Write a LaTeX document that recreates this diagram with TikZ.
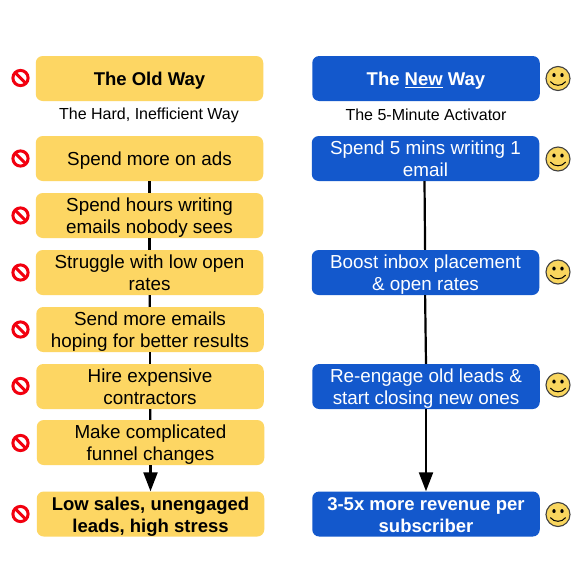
\documentclass[tikz,border=0pt]{standalone}
\usepackage{fontspec}
\setmainfont{Liberation Sans}
\usetikzlibrary{arrows.meta}
\definecolor{oldc}{HTML}{FDD663}
\definecolor{newc}{HTML}{1358CC}
\definecolor{stopc}{HTML}{F2000F}
\definecolor{smile}{HTML}{F9D65E}
\newcommand\boxlines[1]{\raisebox{-7.3pt}[0pt][0pt]{\begin{tabular}{@{}c@{}}#1\end{tabular}}}
\newcommand\hd[1]{{\fontsize{18.5}{22}\selectfont\bfseries #1}}
\tikzset{
  x=1pt,y=-1pt,
  stepbox/.style={rounded corners=7pt,minimum width=227.5pt,minimum height=45pt,inner sep=0pt,font=\fontsize{18.85}{22}\selectfont},
  oldbox/.style={stepbox,fill=oldc,text=black},
  newbox/.style={stepbox,fill=newc,text=white},
  sub/.style={font=\fontsize{16}{18}\selectfont,text=black,inner sep=0pt},
  link/.style={line width=2.2pt,draw=black},
  lastlink/.style={link,-{Triangle[length=19pt,width=14pt]}},
  nosign/.pic={
    \draw[stopc,line width=3pt] (0,0) circle[radius=7.6];
    \draw[stopc,line width=3pt] (-5.4,-5.4) -- (5.4,5.4);
  },
  smiley/.pic={
    \fill[smile,draw=black!75,line width=1.1pt] (0,0) circle[radius=12];
    \fill[black] (-4,-3.4) ellipse[x radius=1.7,y radius=2];
    \fill[black] (4,-3.4) ellipse[x radius=1.7,y radius=2];
    \draw[black,line width=1pt,line cap=round] (-7.5,3.2) .. controls (-4,8) and (4,8) .. (7.5,3.2);
  }
}
\begin{document}
\begin{tikzpicture}
\useasboundingbox (0,0) rectangle (576,576);
\fill[white] (0,0) rectangle (576,576);
% old column
\node[oldbox] (o0) at (149.5,78.5) {\boxlines{\hd{The Old Way}}};
\node[sub] (os) at (149,115) {The Hard, Inefficient Way};
\node[oldbox] (o1) at (149.5,158.5) {\boxlines{Spend more on ads}};
\node[oldbox] (o2) at (149.5,215.5) {\boxlines{Spend hours writing\\emails nobody sees}};
\node[oldbox] (o3) at (149.5,272.5) {\boxlines{Struggle with low open\\rates}};
\node[oldbox] (o4) at (150,329.5) {\boxlines{Send more emails\\hoping for better results}};
\node[oldbox] (o5) at (150,386.5) {\boxlines{Hire expensive\\contractors}};
\node[oldbox] (o6) at (150.5,442.5) {\boxlines{Make complicated\\funnel changes}};
\node[oldbox] (o7) at (150.5,514) {\boxlines{\hd{Low sales, unengaged}\\\hd{leads, high stress}}};
% new column
\node[newbox] (n0) at (426,78.5) {\boxlines{\hd{The \underline{New} Way}}};
\node[sub] (ns) at (426,114.5) {The 5-Minute Activator};
\node[newbox] (n1) at (425.5,158.5) {\boxlines{Spend 5 mins writing 1\\email}};
\node[newbox] (n2) at (425.5,272.5) {\boxlines{Boost inbox placement\\\& open rates}};
\node[newbox] (n3) at (426,386.5) {\boxlines{Re-engage old leads \&\\start closing new ones}};
\node[newbox] (n4) at (426,514) {\boxlines{\hd{3-5x more revenue per}\\\hd{subscriber}}};
% connectors
\draw[link] (o1) -- (o2);
\draw[link] (o2) -- (o3);
\draw[link] (o3) -- (o4);
\draw[link] (o4) -- (o5);
\draw[link] (o5) -- (o6);
\draw[lastlink] (o6) -- (o7.north);
\draw[link] ([xshift=-1pt]n1.south) -- ([xshift=-.4pt]n2.north);
\draw[link] ([xshift=-.4pt]n2.south) -- (n3.north);
\draw[lastlink] (n3) -- (n4.north);
% icons
\foreach \y in {78,158.5,215.5,272.5,329.5,386,443,514}{\pic at (20.5,\y) {nosign};}
\foreach \y in {78.5,159,272,385,514.5}{\pic at (558,\y) {smiley};}
\end{tikzpicture}
\end{document}
